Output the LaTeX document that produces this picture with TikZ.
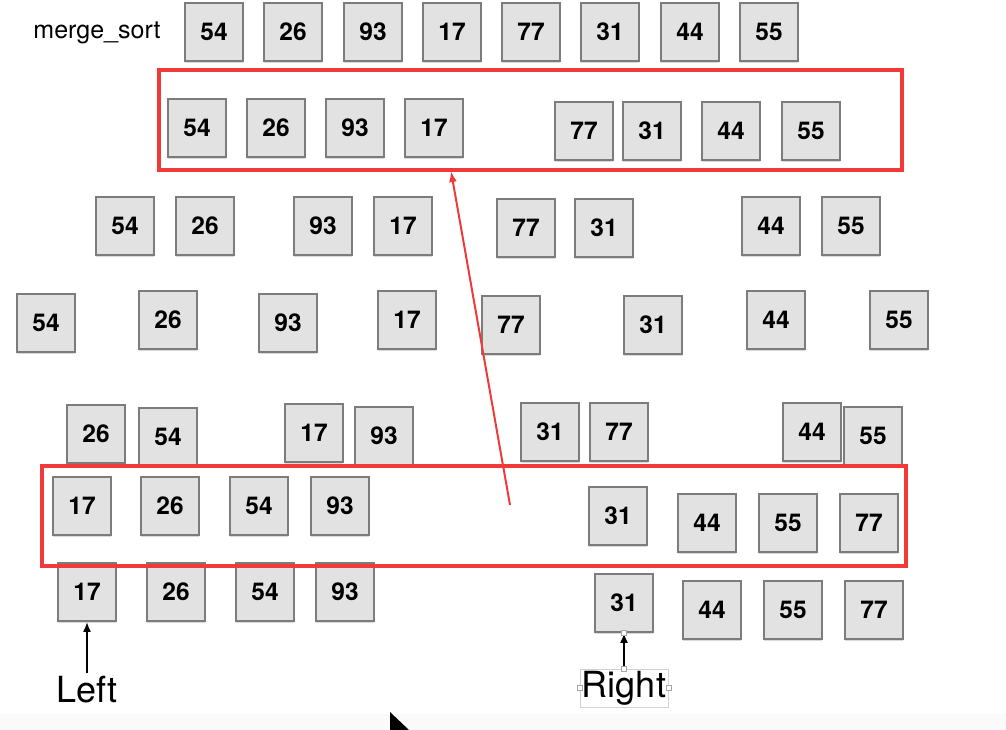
\documentclass[tikz,border=0pt]{standalone}
\usepackage{fontspec}
\setmainfont{TeX Gyre Heros}
\usepackage{tikz}
\usetikzlibrary{arrows.meta, positioning, shadows}
\definecolor{CellFill}{HTML}{E2E2E2}
\definecolor{CellLine}{HTML}{7C7C7C}
\definecolor{MarkRed}{HTML}{F03A3A}

\begin{document}
\begin{tikzpicture}[x=1pt, y=-1pt,
  cell/.style={draw=CellLine, line width=1.8pt, fill=CellFill, minimum size=58pt, inner sep=0pt,
    font=\fontsize{24.5}{26}\selectfont\bfseries, drop shadow={opacity=0.3, shadow xshift=0pt, shadow yshift=-1.8pt}},
  frame/.style={draw=MarkRed, line width=3.2pt, inner sep=0pt, fill=none},
  pointer/.style={font=\fontsize{36}{38}\selectfont, inner sep=1pt},
  handle/.style={draw=gray!70, fill=white, minimum size=5pt, inner sep=0pt}
]
\useasboundingbox (0,0) rectangle (1006,730);
\fill[gray!4] (0,714) rectangle (1006,730);

% Title
\node[font=\fontsize{25}{27}\selectfont] (title) at (97,33) {merge\_sort};

% Row 0: input
\foreach \x/\y/\v [count=\i] in {214/32/54, 293/32/26, 373/32/93, 452/32/17, 531/32/77, 610/32/31, 690/32/44, 769/32/55} {
  \node[cell] (r0-\i) at (\x,\y) {\v};
}

% Row 1: first split
\foreach \x/\y/\v [count=\i] in {197/128/54, 276/128/26, 355/128/93, 434/128/17, 584/131/77, 652/131/31, 731/131/44, 811/131/55} {
  \node[cell] (r1-\i) at (\x,\y) {\v};
}

% Row 2
\foreach \x/\y/\v [count=\i] in {125/226/54, 205/226/26, 323/226/93, 403/226/17, 526/228/77, 604/228/31, 771/226/44, 851/226/55} {
  \node[cell] (r2-\i) at (\x,\y) {\v};
}

% Row 3: single items
\foreach \x/\y/\v [count=\i] in {46/323/54, 168/320/26, 288/323/93, 407/320/17, 511/325/77, 653/325/31, 776/320/44, 899/320/55} {
  \node[cell] (r3-\i) at (\x,\y) {\v};
}

% Row 4: merged pairs
\foreach \x/\y/\v [count=\i] in {96/434/26, 168/437/54, 314/433/17, 384/436/93, 550/432/31, 619/432/77, 812/432/44, 873/436/55} {
  \node[cell] (r4-\i) at (\x,\y) {\v};
}

% Row 5: merged halves
\foreach \x/\y/\v [count=\i] in {82/506/17, 170/506/26, 259/506/54, 340/506/93, 618/516/31, 707/523/44, 788/523/55, 869/523/77} {
  \node[cell] (r5-\i) at (\x,\y) {\v};
}

% Row 6: final merge
\foreach \x/\y/\v [count=\i] in {87/592/17, 176/592/26, 265/592/54, 345/592/93, 624/603/31, 712/610/44, 793/610/55, 874/610/77} {
  \node[cell] (r6-\i) at (\x,\y) {\v};
}

% Red frames
\node[frame, minimum width=743pt, minimum height=100pt] (top) at (530.5,120) {};
\node[frame, minimum width=864pt, minimum height=100pt] (bottom) at (474,516) {};
\coordinate (tail) at (510,505);
\coordinate (hit) at (451,171);
\draw[MarkRed, line width=2pt, -{Latex[length=11pt, width=8pt]}] (tail) -- (hit);

% Pointers
\node[pointer] (left) at (87,690) {Left};
\node[pointer, draw=gray!35, line width=0.8pt, inner sep=2pt] (right) at (624,688) {Right};
\foreach \a in {west, east, north} {
  \node[handle] (h-\a) at (right.\a) {};
}
\draw[line width=1.8pt, -{Latex[length=10pt, width=8pt]}] (left.north) ++(0,-2) -- (r6-1.south);
\draw[line width=1.8pt, -{Latex[length=10pt, width=8pt]}] (h-north) -- (r6-5.south);
\node[handle] (h-top) at (r6-5.south) {};

% Mouse cursor
\fill[black] (390,712) -- (390,730) -- (409,730) -- cycle;
\end{tikzpicture}
\end{document}
